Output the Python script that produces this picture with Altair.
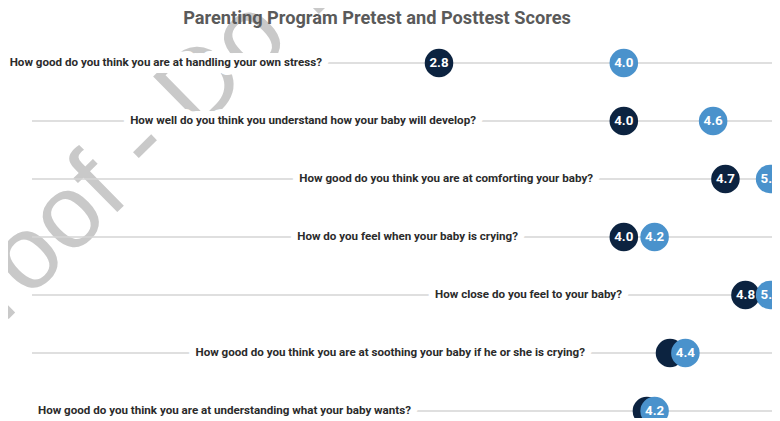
import altair as alt
import pandas as pd

questions = [
    "How good do you think you are at handling your own stress?",
    "How well do you think you understand how your baby will develop?",
    "How good do you think you are at comforting your baby?",
    "How do you feel when your baby is crying?",
    "How close do you feel to your baby?",
    "How good do you think you are at soothing your baby if he or she is crying?",
    "How good do you think you are at understanding what your baby wants?",
]
pretest = [2.8, 4.0, 4.66, 4.0, 4.79, 4.3, 4.15]
posttest = [4.0, 4.58, 4.95, 4.2, 4.95, 4.4, 4.2]
label_end = [2.04, 3.04, 3.80, 3.313, 3.988, 3.748, 2.618]

TITLE = "Parenting Program Pretest and Posttest Scores"
WATERMARK = "Proof - Do Not Copy"
LINE_START, LINE_END = 0.157, 4.969

rows = list(range(1, len(questions) + 1))
df = pd.DataFrame({"row": rows, "question": questions, "pre": pretest,
                   "post": posttest, "label_end": label_end})

W, H = 764, 410
PX = 154
FONT = "Roboto, sans-serif"
LFS = 11.6
x0 = 0.0013
xs = alt.Scale(domain=[x0, x0 + W / PX])
y0 = 1 - 55 / 58
ys = alt.Scale(domain=[y0, y0 + H / 58], reverse=True)

base = alt.Chart(df)
Y = alt.Y("row:Q", scale=ys, axis=None)

watermark = alt.Chart(pd.DataFrame({"t": [WATERMARK]})).mark_text(
    align="left", baseline="alphabetic", angle=315.5, fontSize=104,
    font="Liberation Sans, sans-serif", color="#c9c9c9"
).encode(text="t:N", x=alt.value(-54), y=alt.value(364.5))

lines = base.transform_calculate(x0=str(LINE_START), x1=str(LINE_END)).mark_rule(
    color="#d4d4d4", strokeWidth=1.5
).encode(x=alt.X("x0:Q", scale=xs, axis=None), x2="x1:Q", y=Y)

label_bg = base.mark_text(
    align="right", baseline="middle", font=FONT, fontSize=LFS, fontWeight="bold",
    color="white", stroke="white", strokeWidth=14, strokeJoin="round"
).encode(x=alt.X("label_end:Q", scale=xs, axis=None), y=Y, text="question:N")

labels = base.mark_text(
    align="right", baseline="middle", font=FONT, fontSize=LFS, fontWeight="bold",
    color="#2b2b2b"
).encode(x=alt.X("label_end:Q", scale=xs, axis=None), y=Y, text="question:N")

pre_dot = base.mark_circle(size=815, opacity=1, color="#0c2340").encode(
    x=alt.X("pre:Q", scale=xs, axis=None), y=Y)
pre_txt = base.transform_filter("datum.post - datum.pre >= 0.15").mark_text(
    font=FONT, fontSize=13.3, fontWeight="bold", color="white", baseline="middle"
).encode(x=alt.X("pre:Q", scale=xs, axis=None), y=Y,
         text=alt.Text("pre:Q", format=".1f"))
post_dot = base.mark_circle(size=815, opacity=1, color="#4a92cc").encode(
    x=alt.X("post:Q", scale=xs, axis=None), y=Y)
post_txt = base.mark_text(
    font=FONT, fontSize=13.3, fontWeight="bold", color="white", baseline="middle"
).encode(x=alt.X("post:Q", scale=xs, axis=None), y=Y,
         text=alt.Text("post:Q", format=".1f"))

title = alt.Chart(pd.DataFrame({"t": [TITLE]})).mark_text(
    font=FONT, fontSize=18.2, fontWeight="bold", color="#5a5a5a", baseline="middle"
).encode(text="t:N", x=alt.value(369), y=alt.value(11))

chart = alt.layer(
    watermark, lines, label_bg, labels, pre_dot, pre_txt, post_dot, post_txt, title
).properties(
    width=W, height=H, padding=0,
    autosize=alt.AutoSizeParams(type="none"),
).configure_view(stroke=None)

chart.save("out.html", embed_options={"renderer": "svg", "actions": False})
